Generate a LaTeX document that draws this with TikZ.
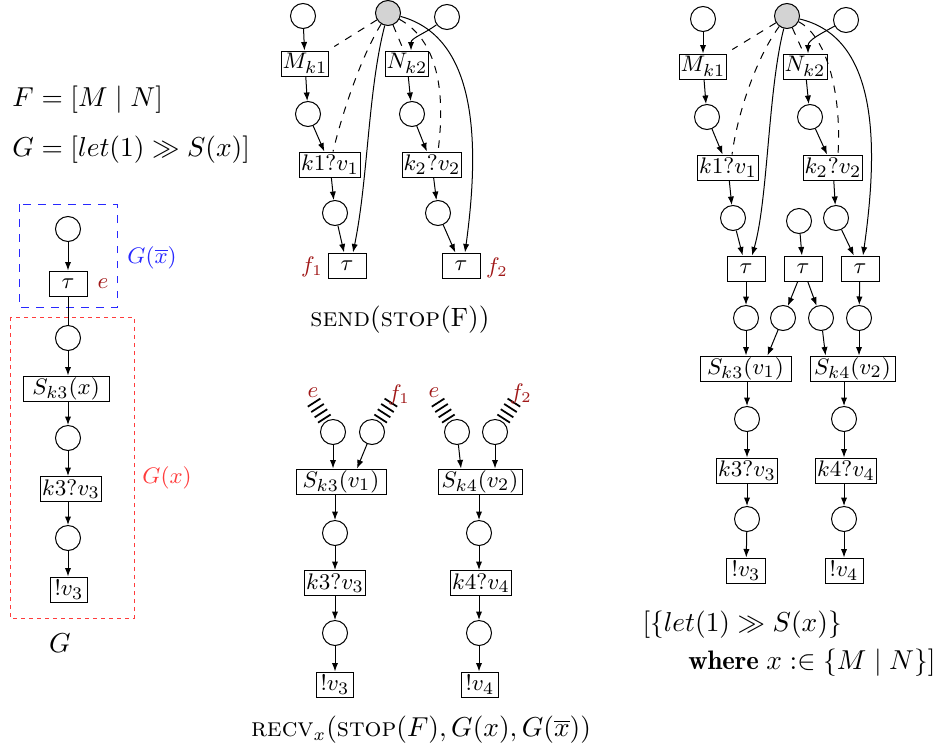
\documentclass[tikz,border=0pt]{standalone}
\usepackage{fontspec}
\usetikzlibrary{arrows.meta,calc}
\definecolor{lbl}{RGB}{160,24,24}
\definecolor{bluebox}{RGB}{40,40,255}
\definecolor{redbox}{RGB}{255,60,60}
\definecolor{gfill}{RGB}{211,211,211}
\newcommand\hatchmarks[3]{%
  \foreach \d in {16,22.3,28.6,35} {%
    \draw[line width=0.7pt] ($(#1)+({\d*(#2)-7.5*(#3)},{\d*(#3)+7.5*(#2)})$) -- ($(#1)+({\d*(#2)+7.5*(#3)},{\d*(#3)-7.5*(#2)})$);
  }}
\begin{document}
\begin{tikzpicture}[x=0.4pt,y=-0.4pt,line width=0.4pt,
  pl/.style={circle,draw,minimum size=10pt,inner sep=0pt},
  gpl/.style={pl,fill=gfill},
  mw/.style={minimum width=#1*0.4pt},
  tr/.style={draw,rectangle,minimum height=10pt,inner xsep=0.6pt,inner ysep=0pt,font=\fontsize{9.4}{10}\selectfont},
  arr/.style={-{Latex[length=3.4pt,width=2.5pt]}},
  rd/.style={dashed},
  lab/.style={inner sep=0pt,font=\fontsize{9}{10}\selectfont},
  big/.style={inner sep=0pt,font=\fontsize{10.7}{13}\selectfont},
  capt/.style={inner sep=0pt,font=\fontsize{10.6}{13}\selectfont}]
\useasboundingbox (0,0) rectangle (938,753);

% ---------- left formulas ----------
\node[big,anchor=west] (fF) at (12,100) {$F = [M \mid N]$};
\node[big,anchor=west] (fG) at (12,150) {$G = [let(1) \gg S(x)]$};

% ---------- left column G ----------
\node[pl] (l0) at (68,229) {};
\node[tr,mw=38] (ltau) at (68,283.5) {$\tau$};
\node[pl] (l1) at (68,338) {};
\node[tr,mw=86] (lS) at (66,388.5) {$S_{k3}(x)$};
\node[pl] (l2) at (68,438) {};
\node[tr,mw=59] (lk) at (71,489) {$k3?v_3$};
\node[pl] (l3) at (68,538) {};
\node[tr,mw=37] (lv) at (69,589.5) {$!v_3$};
\draw[bluebox,dashed] (19,204) rectangle (117,307);
\draw[redbox,dash pattern=on 1.6pt off 1.6pt] (10,317) rectangle (134,618);
\node[lab,text=lbl] (le) at (103,284) {$e$};
\node[lab,text=bluebox] (lgb) at (152,258) {$G(\overline{x})$};
\node[lab,text=redbox] (lgx) at (167,478) {$G(x)$};
\node[big] (lG) at (60,643) {$G$};
\draw[arr] (l0) -- (ltau);
\draw (ltau) -- (l1);
\draw[arr] (l1) -- (l1 |- lS.north);
\draw[arr] (l1 |- lS.south) -- (l2);
\draw[arr] (l2) -- (l2 |- lk.north);
\draw[arr] (l2 |- lk.south) -- (l3);
\draw[arr] (l3) -- (l3 |- lv.north);

% ---------- SEND(STOP(F)) ----------
\node[pl] (a0) at (303,16) {};
\node[gpl] (g1) at (388,13) {};
\node[pl] (b0) at (447,17) {};
\node[tr,mw=44] (aM) at (305,63.5) {$M_{k1}$};
\node[tr,mw=42] (bN) at (407,63.5) {$N_{k2}$};
\node[pl] (a1) at (308,114) {};
\node[pl] (b1) at (412,114) {};
\node[tr,mw=60] (ak) at (330,164.5) {$k1?v_1$};
\node[tr,mw=56] (bk) at (432,164.5) {$k_2?v_2$};
\node[pl] (a2) at (335,213) {};
\node[pl] (b2) at (438,213) {};
\node[tr,mw=38] (at) at (347,265.5) {$\tau$};
\node[tr,mw=38] (bt) at (461,265.5) {$\tau$};
\node[lab,text=lbl] (f1) at (312,267) {$f_1$};
\node[lab,text=lbl] (f2) at (497,268) {$f_2$};
\node[capt] (capS) at (400,320) {$\textsc{send}(\textsc{stop}(\mathrm{F}))$};
\draw[arr] (a0) -- (aM);
\draw[arr] (aM) -- (a1);
\draw[arr] (a1) -- (ak);
\draw[arr] (ak) -- (a2);
\draw[arr] (a2) -- (at);
\draw[arr] (bN) -- (b1);
\draw[arr] (b1) -- (bk);
\draw[arr] (bk) -- (b2);
\draw[arr] (b2) -- (bt);
\draw[rd] (g1) -- ($(aM.north east)+(5,-4)$);
\draw[rd] (g1) .. controls (362,55) and (343,110) .. ([xshift=1.2pt]ak.north);
\draw[arr] (g1) .. controls (368,90) and (368,180) .. ([xshift=2.4pt]at.north);
\draw[rd] (g1) -- ($(bN.north)+(-5,-4)$);
\draw[arr] (b0) .. controls (424,34) and (411,38) .. ([xshift=1.6pt]bN.north);
\draw[rd] (g1) .. controls (437,40) and (446,90) .. ([xshift=2.4pt]bk.north);
\draw[arr] (g1) .. controls (480,38) and (479,150) .. ([xshift=1.6pt]bt.north);

% ---------- RECV ----------
\node[pl] (r1) at (333,432) {};
\node[pl] (r2) at (372,432) {};
\node[pl] (r3) at (457,432) {};
\node[pl] (r4) at (495,432) {};
\node[tr,mw=90] (rS1) at (341,481.5) {$S_{k3}(v_1)$};
\node[tr,mw=84] (rS2) at (480,481.5) {$S_{k4}(v_2)$};
\node[pl] (r5) at (335,533) {};
\node[pl] (r6) at (479,533) {};
\node[tr,mw=59] (rk3) at (335,583) {$k3?v_3$};
\node[tr,mw=59] (rk4) at (481,583) {$k4?v_4$};
\node[pl] (r7) at (335,633) {};
\node[pl] (r8) at (479,633) {};
\node[tr,mw=37] (rv3) at (335,684.5) {$!v_3$};
\node[tr,mw=37] (rv4) at (480,684.5) {$!v_4$};
\hatchmarks{r1}{-0.54}{-0.84}
\hatchmarks{r2}{0.54}{-0.84}
\hatchmarks{r3}{-0.54}{-0.84}
\hatchmarks{r4}{0.54}{-0.84}
\node[lab,text=lbl] (re1) at (313,393) {$e$};
\node[lab,text=lbl] (rf1) at (399,395) {$f_1$};
\node[lab,text=lbl] (re2) at (434,393) {$e$};
\node[lab,text=lbl] (rf2) at (521,394) {$f_2$};
\node[capt] (capR) at (421,730) {$\textsc{recv}_x(\textsc{stop}(F), G(x), G(\overline{x}))$};
\draw[arr] (r1) -- (r1 |- rS1.north);
\draw[arr] (r2) -- ($(rS1.north)+(16,0)$);
\draw[arr] (r3) -- ($(rS2.north)+(-19,0)$);
\draw[arr] (r4) -- (r4 |- rS2.north);
\draw[arr] (r5 |- rS1.south) -- (r5);
\draw[arr] (r5) -- (rk3);
\draw[arr] (rk3) -- (r7);
\draw[arr] (r7) -- (rv3);
\draw[arr] (r6 |- rS2.south) -- (r6);
\draw[arr] (r6) -- (r6 |- rk4.north);
\draw[arr] (r6 |- rk4.south) -- (r8);
\draw[arr] (r8) -- (r8 |- rv4.north);

% ---------- right: result ----------
\node[pl] (c0) at (703,19) {};
\node[gpl] (g2) at (787,16) {};
\node[pl] (d0) at (846,20) {};
\node[tr,mw=44] (cM) at (703,66.5) {$M_{k1}$};
\node[tr,mw=44] (dN) at (805,66.5) {$N_{k2}$};
\node[pl] (c1) at (707,117) {};
\node[pl] (d1) at (810,117) {};
\node[tr,mw=59] (ck) at (728,167.5) {$k1?v_1$};
\node[tr,mw=59] (dk) at (833,167.5) {$k_2?v_2$};
\node[pl] (c2) at (733,218) {};
\node[pl] (m2) at (799,221) {};
\node[pl] (d2) at (836,218) {};
\node[tr,mw=38] (ct) at (746,268.5) {$\tau$};
\node[tr,mw=38] (mt) at (803,268.5) {$\tau$};
\node[tr,mw=38] (dt) at (860,268.5) {$\tau$};
\node[pl] (c3) at (746,318) {};
\node[pl] (m3a) at (783,318) {};
\node[pl] (m3b) at (821,318) {};
\node[pl] (d3) at (859,318) {};
\node[tr,mw=91] (cS) at (745.5,368.5) {$S_{k3}(v_1)$};
\node[tr,mw=85] (dS) at (852.5,368.5) {$S_{k4}(v_2)$};
\node[pl] (c4) at (747,419) {};
\node[pl] (d4) at (844,419) {};
\node[tr,mw=60] (ck3) at (747,470.5) {$k3?v_3$};
\node[tr,mw=60] (dk4) at (846,470.5) {$k4?v_4$};
\node[pl] (c5) at (747,519) {};
\node[pl] (d5) at (844,519) {};
\node[tr,mw=39] (cv) at (746,570.5) {$!v_3$};
\node[tr,mw=38] (dv) at (844,570.5) {$!v_4$};
\node[big,anchor=west] (w1) at (642,625) {$[\{let(1) \gg S(x)\}$};
\node[big,anchor=east] (w2) at (936,663) {$\mathbf{where}\; x :\in \{M \mid N\}]$};

\draw[arr] (c0) -- (cM);
\draw[arr] (cM) -- (c1);
\draw[arr] (c1) -- (ck);
\draw[arr] (ck) -- (c2);
\draw[arr] (c2) -- (ct);
\draw[arr] (dN) -- (d1);
\draw[arr] (d1) -- (dk);
\draw[arr] (dk) -- (d2);
\draw[arr] (d2) -- (dt);
\draw[arr] (m2) -- (mt);
\draw[rd] (g2) -- ($(cM.north east)+(5,-4)$);
\draw[rd] (g2) .. controls (758,55) and (738,110) .. ([xshift=1.6pt]ck.north);
\draw[arr] (g2) .. controls (768,90) and (768,200) .. ([xshift=2.4pt]ct.north);
\draw[rd] (g2) -- ($(dN.north)+(-3,-4)$);
\draw[arr] (d0) .. controls (822,33) and (808,40) .. ([xshift=1.2pt]dN.north);
\draw[rd] (g2) .. controls (825,35) and (842,90) .. ([xshift=2pt]dk.north);
\draw[arr] (g2) .. controls (880,38) and (878,150) .. ([xshift=1.2pt]dt.north);
\draw[arr] (ct) -- (c3);
\draw[arr] (mt) -- (m3a);
\draw[arr] (mt) -- (m3b);
\draw[arr] (dt) -- (d3);
\draw[arr] (c3) -- (c3 |- cS.north);
\draw[arr] (m3a) -- ($(cS.north)+(22,0)$);
\draw[arr] (m3b) -- ($(dS.north)+(-27,0)$);
\draw[arr] (d3) -- (d3 |- dS.north);
\draw[arr] (c4 |- cS.south) -- (c4);
\draw[arr] (c4) -- (ck3);
\draw[arr] (ck3) -- (c5);
\draw[arr] (c5) -- (cv);
\draw[arr] (d4 |- dS.south) -- (d4);
\draw[arr] (d4) -- (d4 |- dk4.north);
\draw[arr] (d4 |- dk4.south) -- (d5);
\draw[arr] (d5) -- (dv);
\end{tikzpicture}
\end{document}
